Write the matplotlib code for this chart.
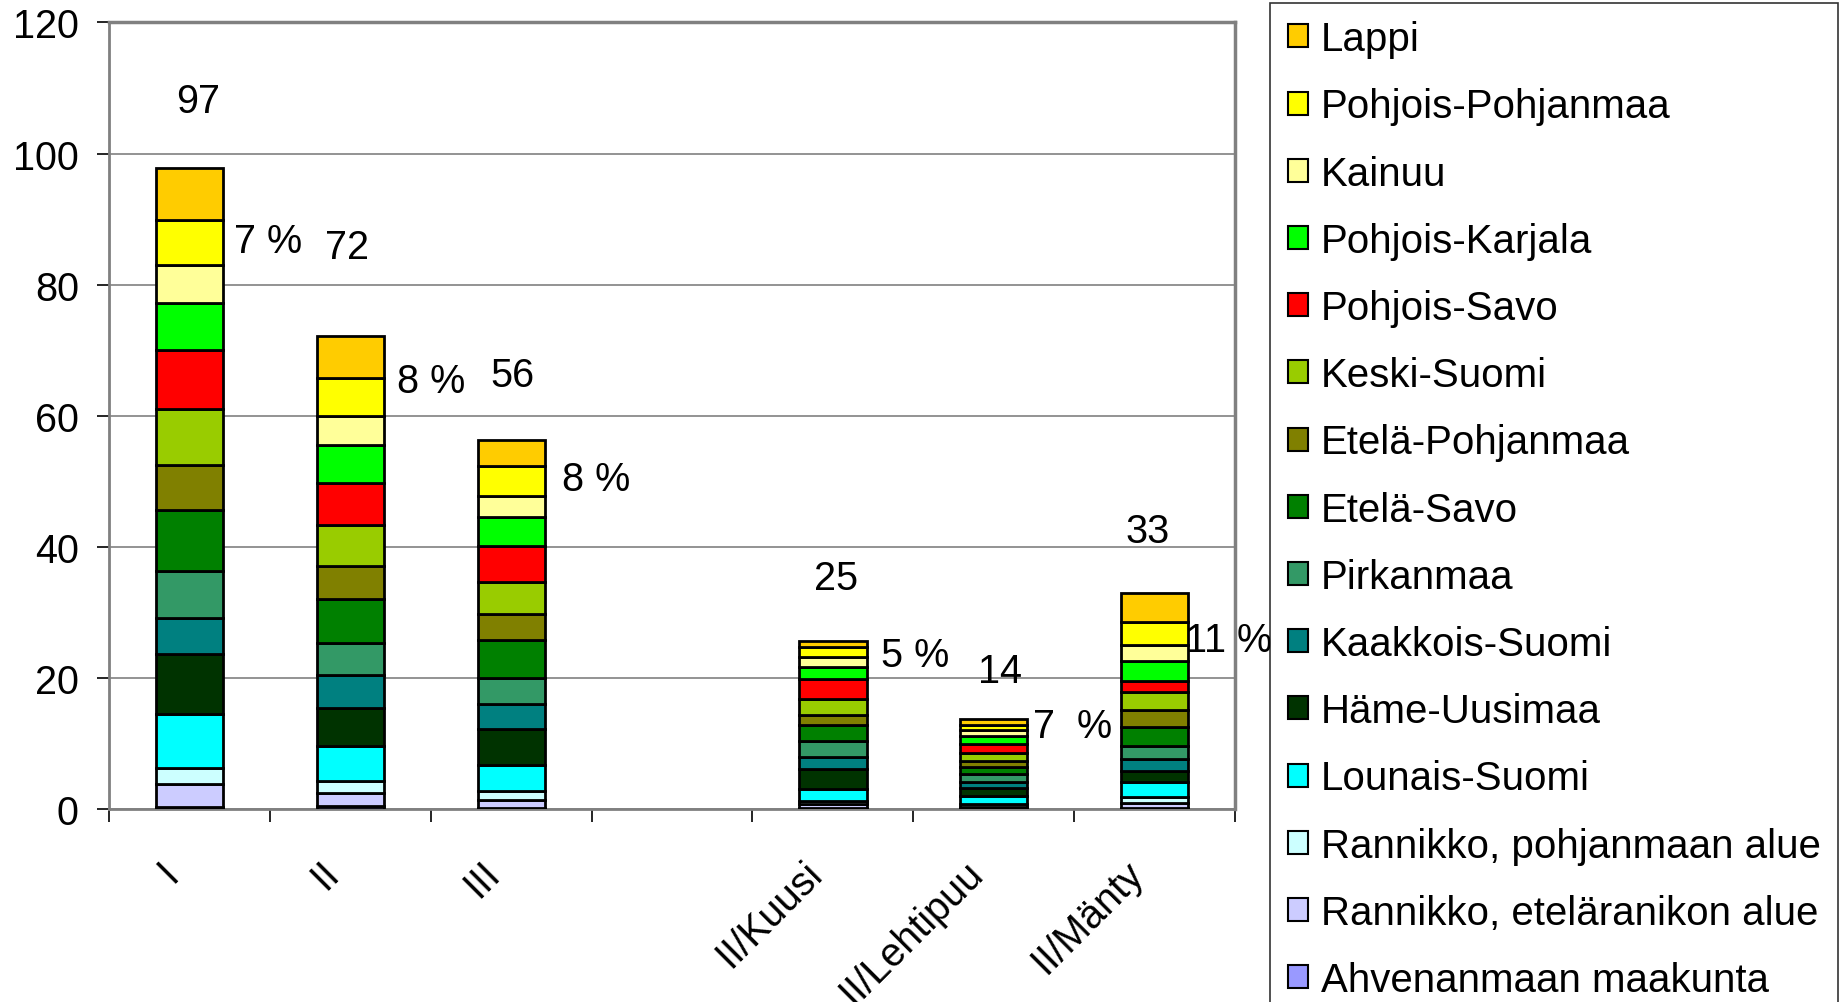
import numpy as np
import matplotlib.pyplot as plt
from matplotlib.patches import Patch

plt.rcParams['font.family'] = ['Liberation Sans', 'DejaVu Sans']

categories = ['I', 'II', 'III', '', 'II/Kuusi', 'II/Lehtipuu', 'II/Mänty']

# regions from bottom of the stack to the top
regions = ['Ahvenanmaan maakunta', 'Rannikko, eteläranikon alue', 'Rannikko, pohjanmaan alue',
           'Lounais-Suomi', 'Häme-Uusimaa', 'Kaakkois-Suomi', 'Pirkanmaa', 'Etelä-Savo',
           'Etelä-Pohjanmaa', 'Keski-Suomi', 'Pohjois-Savo', 'Pohjois-Karjala', 'Kainuu',
           'Pohjois-Pohjanmaa', 'Lappi']
colors = ['#9999FF', '#CCCCFF', '#CCFFFF', '#00FFFF', '#003300', '#008080', '#339966', '#008000',
          '#808000', '#99CC00', '#FF0000', '#00FF00', '#FFFF99', '#FFFF00', '#FFCC00']

# one list per category, values in region order (bottom -> top)
vals_I = [0.4, 3.4, 2.4, 8.3, 9.1, 5.5, 7.3, 9.2, 6.9, 8.6, 8.9, 7.2, 5.8, 6.9, 7.9]
vals_II = [0.5, 1.9, 1.9, 5.3, 5.9, 4.9, 5.0, 6.7, 5.0, 6.3, 6.3, 5.9, 4.3, 5.9, 6.3]
vals_III = [0.2, 1.2, 1.4, 3.9, 5.5, 3.8, 4.0, 5.8, 3.9, 4.9, 5.5, 4.4, 3.3, 4.5, 4.0]
vals_gap = [np.nan] * 15
vals_kuusi = [0.2, 0.6, 0.4, 1.8, 3.1, 1.9, 2.4, 2.5, 1.5, 2.4, 3.0, 1.9, 1.5, 1.5, 0.9]
vals_lehti = [0.1, 0.3, 0.4, 1.2, 1.2, 1.0, 1.1, 1.2, 0.9, 1.2, 1.4, 1.1, 0.9, 0.9, 0.8]
vals_manty = [0.1, 0.8, 0.9, 2.4, 1.6, 1.9, 1.9, 3.0, 2.5, 2.7, 1.8, 3.0, 2.4, 3.5, 4.4]

# text labels written on the chart
label_text = ['97', '7 %', '72', '8 %', '56', '8 %', '25', '5 %', '14', '7  %', '33', '11 %']
label_x = [0.05, 0.49, 0.98, 1.50, 2.01, 2.53, 4.02, 4.51, 5.04, 5.49, 5.96, 6.46]
label_y = [108, 86.6, 85.7, 65.3, 66.2, 50.4, 35.2, 23.5, 21.0, 12.7, 42.5, 25.8]

data = np.array([vals_I, vals_II, vals_III, vals_gap, vals_kuusi, vals_lehti, vals_manty]).T

fig = plt.figure(figsize=(18.44, 10.03), dpi=100)
ax = fig.add_axes([0.0593, 0.1923, 0.6103, 0.7843])

x = np.arange(len(categories))
bottom = np.zeros(len(categories))
for i, reg in enumerate(regions):
    ax.bar(x, data[i], 0.42, bottom=bottom, color=colors[i], edgecolor='black',
           linewidth=2, zorder=3)
    bottom += np.nan_to_num(data[i])

for t, lx, ly in zip(label_text, label_x, label_y):
    ax.text(lx, ly, t, ha='center', va='center', fontsize=28.5, zorder=4)

ax.set_xlim(-0.5, len(categories) - 0.5)
ax.set_ylim(0, 120)
ax.set_yticks(np.arange(0, 121, 20))
ax.yaxis.grid(True, color='#808080', linewidth=1.2, zorder=0)
ax.set_axisbelow(True)

# ticks on the category boundaries, labels just left of the centres
ax.set_xticks(np.arange(-0.5, len(categories), 1.0))
ax.set_xticklabels([])
ax.set_xticks(x - 0.19, minor=True)
ax.set_xticklabels(categories, minor=True, rotation=45, ha='right',
                   rotation_mode='anchor', fontsize=28.5)
ax.tick_params(axis='x', which='minor', length=0, pad=32)
ax.tick_params(axis='x', which='major', length=9, width=1.2, direction='out')
ax.tick_params(axis='y', labelsize=28.5, length=9, width=1.2, direction='out', pad=13)

for s in ['top', 'right']:
    ax.spines[s].set_color('#808080')
    ax.spines[s].set_linewidth(2.5)
ax.spines['left'].set_color('#808080')
ax.spines['left'].set_linewidth(2)
ax.spines['bottom'].set_color('#808080')
ax.spines['bottom'].set_linewidth(2)

handles = [Patch(facecolor=colors[i], edgecolor='black', linewidth=1.5, label=regions[i])
           for i in range(len(regions) - 1, -1, -1)]
leg = fig.legend(handles=handles, loc='upper left', bbox_to_anchor=(0.6888, 0.9965),
                 fontsize=29, frameon=True, fancybox=False, edgecolor='black',
                 handlelength=0.5, handleheight=0.5, handletextpad=0.32,
                 labelspacing=0.725, borderpad=0.44, borderaxespad=0)
leg.get_frame().set_linewidth(1.2)

fig.savefig('out.png', dpi=100)
